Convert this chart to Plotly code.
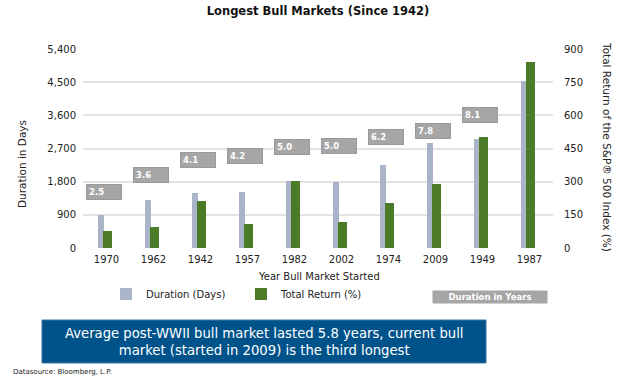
import plotly.graph_objects as go

categories = ["1970", "1962", "1942", "1957", "1982", "2002", "1974", "2009", "1949", "1987"]
duration_days = [900, 1300, 1480, 1510, 1820, 1800, 2240, 2840, 2950, 4530]
total_return = [78, 96, 214, 110, 303, 116, 202, 288, 500, 843]
duration_years = ["2.5", "3.6", "4.1", "4.2", "5.0", "5.0", "6.2", "7.8", "8.1", "12.4"]
left_ticks = [0, 900, 1800, 2700, 3600, 4500, 5400]
right_ticks = [0, 150, 300, 450, 600, 750, 900]

# label box heights (left-axis units), layout only
label_heights = [1520, 1990, 2375, 2497, 2741, 2755, 3012, 3184, 3618, 5428]

FONT = "DejaVu Sans"
GRAY = "#aab4c8"
GREEN = "#4b7b27"
BOXGRAY = "#a6a6a6"

fig = go.Figure()
fig.add_trace(go.Bar(
    x=categories, y=duration_days, name="Duration (Days)",
    marker=dict(color=GRAY, line=dict(width=0)),
    width=0.13, offset=-0.19, yaxis="y",
))
fig.add_trace(go.Bar(
    x=categories, y=total_return, name="Total Return (%)",
    marker=dict(color=GREEN, line=dict(width=0)),
    width=0.18, offset=-0.065, yaxis="y2",
))

annotations = []
for i, (c, t, h) in enumerate(zip(categories, duration_years, label_heights)):
    annotations.append(dict(
        x=i - 0.05, y=h, xref="x", yref="y", text="<b>" + t + "</b>",
        xanchor="center", yanchor="middle",
        showarrow=False, bgcolor=BOXGRAY, width=30, height=10, borderpad=2,
        align="left", font=dict(family=FONT, size=8.5, color="white"),
        bordercolor="#999999", borderwidth=1,
    ))

paper_notes = []
paper_notes.append(dict(x=22, y=164, text="Duration in Days",
                        textangle=-90, font=dict(family=FONT, size=10.5, color="#222")))
paper_notes.append(dict(x=607, y=147,
                        text="Total Return of the S&P® 500 Index (%)",
                        textangle=90, font=dict(family=FONT, size=10.5, color="#222")))
paper_notes.append(dict(x=319, y=276, text="Year Bull Market Started",
                        font=dict(family=FONT, size=10, color="#222")))
paper_notes.append(dict(x=490, y=297, text="<b>Duration in Years</b>",
                        bgcolor=BOXGRAY, width=112, height=10, borderpad=1,
                        font=dict(family=FONT, size=8.5, color="white")))
paper_notes.append(dict(x=264, y=342,
                        text="Average post-WWII bull market lasted 5.8 years, current bull<br>market (started in 2009) is the third longest",
                        font=dict(family=FONT, size=13.2, color="white")))
paper_notes.append(dict(x=11, y=372, xanchor="left",
                        text="Datasource: Bloomberg, L.P.",
                        font=dict(family=FONT, size=7, color="#222")))

W, H = 619, 385
L, R, T, B = 83, 66, 49, 137
PW, PH = W - L - R, H - T - B

def px(x):
    return (x - L) / PW

def py(y):
    return 1 - (y - T) / PH

for a in paper_notes:
    a["x"] = px(a["x"])
    a["y"] = py(a["y"])
    a.setdefault("xanchor", "center")
    a.setdefault("yanchor", "middle")
    a["xref"] = "paper"
    a["yref"] = "paper"
    a["showarrow"] = False
    annotations.append(a)

shapes = [dict(type="rect", xref="paper", yref="paper",
               x0=px(42), x1=px(486), y0=py(320), y1=py(363),
               fillcolor="#00538a", line=dict(color="#3a78a8", width=1), layer="below")]

fig.update_layout(
    width=W, height=H,
    margin=dict(l=L, r=R, t=T, b=B, autoexpand=False),
    paper_bgcolor="white", plot_bgcolor="white",
    barmode="overlay",
    title=dict(text="<b>Longest Bull Markets (Since 1942)</b>", x=0.5, xref="paper", xanchor="center",
               y=1 - 11 / H, yanchor="middle", font=dict(family=FONT, size=11.5, color="#111")),
    font=dict(family=FONT, size=10, color="#222"),
    xaxis=dict(type="category", showgrid=False, showline=False, ticks="", zeroline=False,
               tickfont=dict(family=FONT, size=10, color="#222"), ticklabelstandoff=4),
    yaxis=dict(range=[0, 5400], tickvals=left_ticks, tickformat=",d", showgrid=True,
               gridcolor="#e3e3e3", gridwidth=1.5, zeroline=False, showline=False, ticks="",
               tickfont=dict(family=FONT, size=10, color="#222"), ticklabelstandoff=6),
    yaxis2=dict(range=[0, 900], tickvals=right_ticks, overlaying="y", side="right",
                showgrid=False, zeroline=False, showline=False, ticks="",
                tickfont=dict(family=FONT, size=10, color="#222"), ticklabelstandoff=10),
    legend=dict(orientation="h", x=px(106), y=py(294),
                xanchor="left", yanchor="middle", font=dict(family=FONT, size=10, color="#222"),
                itemwidth=30, tracegroupgap=0, entrywidth=90, bgcolor="rgba(0,0,0,0)"),
    annotations=annotations,
    shapes=shapes,
    bargap=0,
)

fig.write_html("out.html", config={"displayModeBar": False},
               post_script="document.body.style.margin='0';document.body.style.padding='0';")
